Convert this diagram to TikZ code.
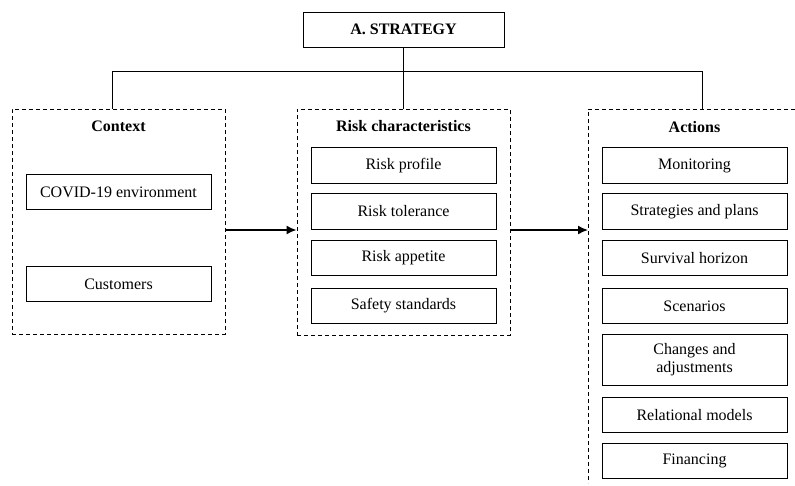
\documentclass[tikz,border=0pt]{standalone}
\usepackage{fontspec}
\setmainfont{Liberation Serif}
\usetikzlibrary{arrows.meta}
\begin{document}
\begin{tikzpicture}[x=1pt,y=-1pt,
  txt/.style={font=\fontsize{16}{18.5}\selectfont},
  ttl/.style={font=\fontsize{16}{18.5}\selectfont\bfseries},
  item/.style={draw,line width=1pt,minimum width=185pt,minimum height=35.5pt,inner sep=0pt,align=center,txt},
  group/.style={draw,line width=1pt,dash pattern=on 4pt off 3pt,inner sep=0pt},
  link/.style={line width=1pt},
  arr/.style={line width=1.5pt,-{Latex[length=10pt,width=9pt]}}]
\useasboundingbox (0,0) rectangle (795,485);
% top node
\node[draw,line width=1pt,minimum width=201pt,minimum height=35pt,inner sep=0pt,ttl] (strat) at (403.5,29.5) {A. STRATEGY};
% groups
\node[group,minimum width=213pt,minimum height=225pt] (ctx) at (118.5,221.5) {};
\node[group,minimum width=213pt,minimum height=226pt] (risk) at (403.5,222) {};
\coordinate (actTR) at (795,109);
\coordinate (actTL) at (588,109);
\coordinate (actBL) at (588,483);
\draw[group] (actTR) -- (actTL) -- (actBL);
% titles
\node[ttl] (tctx) at (118.5,126.5) {Context};
\node[ttl] (trisk) at (403.5,126.5) {Risk characteristics};
\node[ttl] (tact) at (694.5,127) {Actions};
% context items
\node[item] (covid) at (118.5,192) {COVID-19 environment};
\node[item] (cust) at (118.5,284) {Customers};
% risk items
\node[item] (rprof) at (403.5,165.5) {Risk profile};
\node[item] (rtol) at (403.5,211.5) {Risk tolerance};
\node[item] (rapp) at (403.5,258) {Risk appetite};
\node[item] (rsafe) at (403.5,306) {Safety standards};
% action items
\node[item] (mon) at (694.5,165.5) {Monitoring};
\node[item] (strp) at (694.5,211.5) {Strategies and plans};
\node[item] (surv) at (694.5,258) {Survival horizon};
\node[item] (scen) at (694.5,306) {Scenarios};
\node[item,minimum height=51pt] (chg) at (694.5,359.5) {Changes and\\adjustments};
\node[item] (rel) at (694.5,414.75) {Relational models};
\node[item] (fin) at (694.5,461) {Financing};
% connectors
\coordinate (busL) at (112,71);
\coordinate (busR) at (702,71);
\coordinate (ay) at (0,230);
\draw[link] (strat.south) -- (risk.north);
\draw[link] (busL |- ctx.north) -- (busL) -- (busR) -- (busR |- actTL);
\draw[arr] (ctx.east |- ay) -- (risk.west |- ay);
\draw[arr] (risk.east |- ay) -- (actTL |- ay);
\end{tikzpicture}
\end{document}
